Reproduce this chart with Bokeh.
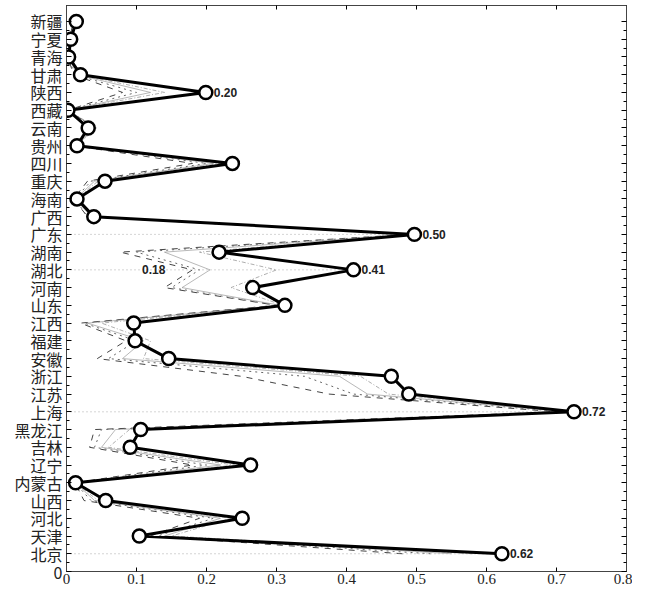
from bokeh.plotting import figure
from bokeh.models import FixedTicker, NumeralTickFormatter, LinearAxis, Range1d, CustomJSTickFormatter
from bokeh.core.properties import value
from bokeh.embed import file_html
from bokeh.resources import INLINE

provinces = ["北京", "天津", "河北", "山西", "内蒙古", "辽宁", "吉林", "黑龙江", "上海", "江苏",
             "浙江", "安徽", "福建", "江西", "山东", "河南", "湖北", "湖南", "广东", "广西",
             "海南", "重庆", "四川", "贵州", "云南", "西藏", "陕西", "甘肃", "青海", "宁夏", "新疆"]

main_vals = [0.622, 0.104, 0.251, 0.056, 0.013, 0.263, 0.091, 0.106, 0.725, 0.489,
             0.464, 0.146, 0.098, 0.096, 0.312, 0.266, 0.410, 0.218, 0.497, 0.039,
             0.015, 0.055, 0.237, 0.015, 0.031, 0.002, 0.199, 0.020, 0.003, 0.006, 0.014]

gray1 = [0.48, 0.12, 0.19, 0.025, 0.012, 0.18, 0.033, 0.04, 0.70, 0.375,
         0.25, 0.044, 0.085, 0.02, 0.30, 0.14, 0.18, 0.077, 0.49, 0.03,
         0.01, 0.03, 0.18, 0.01, 0.04, 0.002, 0.08, 0.01, 0.002, 0.004, 0.01]
gray2 = [0.52, 0.13, 0.21, 0.035, 0.012, 0.20, 0.04, 0.05, 0.71, 0.41,
         0.34, 0.06, 0.10, 0.025, 0.30, 0.15, 0.19, 0.10, 0.49, 0.03,
         0.012, 0.035, 0.20, 0.012, 0.04, 0.002, 0.10, 0.012, 0.002, 0.005, 0.012]
gray3 = [0.55, 0.14, 0.22, 0.04, 0.013, 0.22, 0.05, 0.07, 0.715, 0.43,
         0.39, 0.08, 0.11, 0.03, 0.305, 0.165, 0.205, 0.14, 0.49, 0.035,
         0.013, 0.04, 0.21, 0.013, 0.042, 0.002, 0.12, 0.015, 0.003, 0.005, 0.013]
gray4 = [0.58, 0.15, 0.235, 0.045, 0.013, 0.24, 0.06, 0.09, 0.72, 0.46,
         0.42, 0.11, 0.12, 0.05, 0.31, 0.235, 0.30, 0.19, 0.495, 0.037,
         0.014, 0.045, 0.22, 0.014, 0.043, 0.002, 0.14, 0.018, 0.003, 0.006, 0.014]

label_provs = ["陕西", "广东", "湖北", "上海", "北京"]
label_texts = ["0.20", "0.50", "0.41", "0.72", "0.62"]
ref_provs = ["广东", "湖北", "上海", "北京"]
extra_label = "0.18"
extra_label_x = 0.108
extra_label_prov = "湖北"

x_ticks = [0, 0.1, 0.2, 0.3, 0.4, 0.5, 0.6, 0.7, 0.8]

ypos = list(range(1, len(provinces) + 1))
idx = {p: i for i, p in enumerate(provinces)}

p = figure(frame_width=560, frame_height=566, output_backend="svg", toolbar_location=None,
           x_range=Range1d(0, 0.8), y_range=Range1d(0, 31.9),
           min_border_left=66, min_border_top=5, min_border_right=6, min_border_bottom=0)
p.grid.visible = False
p.outline_line_color = "#444444"
p.background_fill_color = "white"

styles = [("dashed", 1.0, "#444444"), ("dotted", 1.0, "#666666"), ("solid", 0.6, "#888888"), ("4 2 1 2", 0.8, "#999999")]
for g, (dash, w, c) in zip([gray1, gray2, gray3, gray4], styles):
    p.line(g, ypos, line_color=c, line_width=w, line_dash=dash)

rx = [main_vals[idx[q]] for q in ref_provs]
ry = [idx[q] + 1 for q in ref_provs]
p.segment(x0=[0] * len(rx), y0=ry, x1=rx, y1=ry, line_color="#aaaaaa", line_width=1, line_dash="1 3")

p.line(main_vals, ypos, line_color="black", line_width=3)
p.scatter(main_vals, ypos, size=13, marker="circle", fill_color="white", line_color="black", line_width=2.5)

lx = [main_vals[idx[q]] for q in label_provs]
ly = [idx[q] + 1 for q in label_provs]
p.text(lx, ly, text=label_texts, x_offset=8, text_align="left", text_baseline="middle",
       text_font=value("Liberation Sans"), text_font_style="bold", text_font_size="12px", text_color="#222222")
p.text([extra_label_x], [idx[extra_label_prov] + 1], text=[extra_label], text_align="left", text_baseline="middle",
       text_font=value("Liberation Sans"), text_font_style="bold", text_font_size="12px", text_color="#222222")

p.xaxis.ticker = FixedTicker(ticks=x_ticks, minor_ticks=[])
p.xaxis.formatter = NumeralTickFormatter(format="0.[0]")
p.xaxis.major_label_text_font = "'Liberation Serif', serif"
p.xaxis.major_label_text_font_size = "15px"
p.xaxis.major_label_text_color = "#222222"
p.xaxis.major_tick_in = 4
p.xaxis.major_tick_out = 0
p.xaxis.major_label_standoff = 2
p.xaxis.axis_line_color = "#444444"

yt = [0] + ypos
p.yaxis.ticker = FixedTicker(ticks=yt, minor_ticks=[y + 0.5 for y in yt[:-1]])
p.yaxis.major_label_overrides = {0: "0", **{i + 1: n for i, n in enumerate(provinces)}}
p.yaxis.major_label_text_font = "Noto Sans CJK SC"
p.yaxis.major_label_text_font_size = "16px"
p.yaxis.major_label_text_color = "#222222"
p.yaxis.major_tick_in = 5
p.yaxis.major_tick_out = 0
p.yaxis.minor_tick_in = 3
p.yaxis.minor_tick_out = 0
p.yaxis.major_label_standoff = 4
p.yaxis.axis_line_color = "#444444"

blank = CustomJSTickFormatter(code="return '';")
ra = LinearAxis(ticker=FixedTicker(ticks=yt, minor_ticks=[y + 0.5 for y in yt[:-1]]),
                formatter=blank, major_tick_in=5, major_tick_out=0,
                minor_tick_in=3, minor_tick_out=0, axis_line_color="#444444", major_label_standoff=0)
p.add_layout(ra, "right")
ta = LinearAxis(ticker=FixedTicker(ticks=x_ticks, minor_ticks=[]),
                formatter=blank, major_tick_in=4, major_tick_out=0,
                axis_line_color="#444444", major_label_standoff=0)
p.add_layout(ta, "above")

open("out.html", "w").write(file_html(p, INLINE))
